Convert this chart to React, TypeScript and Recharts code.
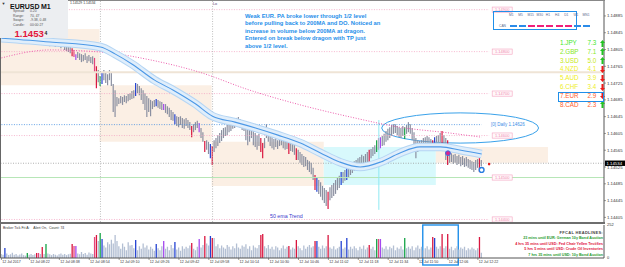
import React from "react";
import {
  ComposedChart, Bar, Line, XAxis, YAxis, Cell,
  ReferenceArea, ReferenceLine, ReferenceDot,
} from "recharts";

const FONT = '"Liberation Sans", Arial, sans-serif';

// EURUSD M1, 12 Jul 2017, one bar a minute from 08:07
const highs = [
  1.14870, 1.14866, 1.14875, 1.14870, 1.14863, 1.14866, 1.14870, 1.14868, 1.14861, 1.14863,
  1.14866, 1.14858, 1.14861, 1.14856, 1.14863, 1.14858, 1.14856, 1.14854, 1.14858, 1.14856,
  1.14851, 1.14854, 1.14837, 1.14835, 1.14832, 1.14830, 1.14827, 1.14832, 1.14830, 1.14827,
  1.14825, 1.14827, 1.14825, 1.14823, 1.14820, 1.14818, 1.14813, 1.14811, 1.14808, 1.14804,
  1.14794, 1.14799, 1.14796, 1.14794, 1.14792, 1.14796, 1.14789, 1.14792, 1.14787, 1.14789,
  1.14785, 1.14765, 1.14756, 1.14742, 1.14751, 1.14756, 1.14751, 1.14746, 1.14756, 1.14749,
  1.14723, 1.14708, 1.14692, 1.14689, 1.14694, 1.14692, 1.14696, 1.14694, 1.14699, 1.14701,
  1.14706, 1.14708, 1.14725, 1.14723, 1.14718, 1.14713, 1.14708, 1.14701, 1.14694, 1.14689,
  1.14685, 1.14682, 1.14685, 1.14687, 1.14685, 1.14682, 1.14680, 1.14675, 1.14675, 1.14670,
  1.14666, 1.14661, 1.14656, 1.14651, 1.14646, 1.14644, 1.14646, 1.14642, 1.14639, 1.14642,
  1.14637, 1.14632, 1.14623, 1.14627, 1.14632, 1.14635, 1.14630, 1.14618, 1.14608, 1.14587,
  1.14589, 1.14585, 1.14580, 1.14575, 1.14589, 1.14594, 1.14601, 1.14606, 1.14613, 1.14618,
  1.14620, 1.14625, 1.14627, 1.14632, 1.14635, 1.14637, 1.14642, 1.14644, 1.14639, 1.14635,
  1.14632, 1.14625, 1.14618, 1.14613, 1.14618, 1.14613, 1.14606, 1.14601, 1.14604, 1.14594,
  1.14582, 1.14594, 1.14627, 1.14613, 1.14604, 1.14596, 1.14592, 1.14594, 1.14589, 1.14594,
  1.14596, 1.14592, 1.14589, 1.14587, 1.14582, 1.14585, 1.14580, 1.14582, 1.14570, 1.14566,
  1.14561, 1.14556, 1.14551, 1.14549, 1.14542, 1.14539, 1.14535, 1.14523, 1.14506, 1.14499,
  1.14494, 1.14489, 1.14480, 1.14475, 1.14470, 1.14466, 1.14477, 1.14482, 1.14487, 1.14494,
  1.14499, 1.14504, 1.14513, 1.14513, 1.14518, 1.14523, 1.14523, 1.14530, 1.14535, 1.14539,
  1.14542, 1.14546, 1.14549, 1.14554, 1.14551, 1.14556, 1.14561, 1.14566, 1.14568, 1.14573,
  1.14577, 1.14589, 1.14594, 1.14596, 1.14599, 1.14604, 1.14611, 1.14616, 1.14620, 1.14625,
  1.14627, 1.14627, 1.14623, 1.14620, 1.14618, 1.14623, 1.14620, 1.14625, 1.14632, 1.14627,
  1.14618, 1.14608, 1.14594, 1.14589, 1.14587, 1.14589, 1.14594, 1.14596, 1.14599, 1.14596,
  1.14592, 1.14589, 1.14596, 1.14599, 1.14601, 1.14606, 1.14611, 1.14601, 1.14594, 1.14589,
  1.14561, 1.14558, 1.14554, 1.14556, 1.14551, 1.14554, 1.14549, 1.14551, 1.14546, 1.14549,
  1.14544, 1.14542, 1.14539, 1.14537, 1.14542, 1.14544, 1.14546, 1.14542,
];
const lows = [
  1.14851, 1.14851, 1.14851, 1.14856, 1.14846, 1.14851, 1.14854, 1.14851, 1.14844, 1.14849,
  1.14851, 1.14844, 1.14846, 1.14842, 1.14844, 1.14846, 1.14842, 1.14839, 1.14844, 1.14837,
  1.14837, 1.14839, 1.14818, 1.14820, 1.14815, 1.14818, 1.14813, 1.14818, 1.14815, 1.14811,
  1.14813, 1.14811, 1.14808, 1.14811, 1.14804, 1.14801, 1.14799, 1.14796, 1.14789, 1.14787,
  1.14780, 1.14785, 1.14780, 1.14775, 1.14777, 1.14780, 1.14773, 1.14777, 1.14773, 1.14770,
  1.14751, 1.14713, 1.14727, 1.14718, 1.14723, 1.14732, 1.14725, 1.14720, 1.14732, 1.14718,
  1.14656, 1.14644, 1.14670, 1.14675, 1.14677, 1.14673, 1.14680, 1.14677, 1.14682, 1.14685,
  1.14687, 1.14689, 1.14694, 1.14701, 1.14696, 1.14685, 1.14675, 1.14661, 1.14644, 1.14656,
  1.14646, 1.14663, 1.14668, 1.14670, 1.14666, 1.14663, 1.14661, 1.14661, 1.14654, 1.14651,
  1.14644, 1.14637, 1.14635, 1.14627, 1.14623, 1.14620, 1.14625, 1.14618, 1.14616, 1.14623,
  1.14618, 1.14613, 1.14596, 1.14608, 1.14613, 1.14618, 1.14608, 1.14594, 1.14585, 1.14561,
  1.14566, 1.14556, 1.14546, 1.14530, 1.14561, 1.14570, 1.14575, 1.14582, 1.14587, 1.14594,
  1.14599, 1.14601, 1.14608, 1.14611, 1.14616, 1.14618, 1.14623, 1.14625, 1.14618, 1.14613,
  1.14611, 1.14589, 1.14577, 1.14585, 1.14594, 1.14577, 1.14573, 1.14566, 1.14575, 1.14561,
  1.14546, 1.14570, 1.14594, 1.14585, 1.14575, 1.14570, 1.14566, 1.14573, 1.14568, 1.14575,
  1.14577, 1.14570, 1.14566, 1.14568, 1.14556, 1.14563, 1.14561, 1.14554, 1.14542, 1.14542,
  1.14535, 1.14530, 1.14525, 1.14527, 1.14518, 1.14513, 1.14508, 1.14494, 1.14470, 1.14466,
  1.14461, 1.14454, 1.14446, 1.14439, 1.14432, 1.14425, 1.14446, 1.14451, 1.14456, 1.14461,
  1.14470, 1.14475, 1.14482, 1.14487, 1.14492, 1.14494, 1.14499, 1.14506, 1.14511, 1.14516,
  1.14518, 1.14523, 1.14527, 1.14530, 1.14532, 1.14535, 1.14537, 1.14535, 1.14546, 1.14551,
  1.14556, 1.14561, 1.14566, 1.14570, 1.14575, 1.14577, 1.14585, 1.14589, 1.14594, 1.14599,
  1.14604, 1.14606, 1.14601, 1.14596, 1.14594, 1.14599, 1.14592, 1.14604, 1.14608, 1.14604,
  1.14589, 1.14570, 1.14546, 1.14561, 1.14566, 1.14568, 1.14570, 1.14575, 1.14577, 1.14573,
  1.14568, 1.14566, 1.14573, 1.14575, 1.14570, 1.14577, 1.14575, 1.14566, 1.14542, 1.14530,
  1.14535, 1.14537, 1.14532, 1.14535, 1.14530, 1.14532, 1.14527, 1.14530, 1.14525, 1.14527,
  1.14523, 1.14520, 1.14518, 1.14513, 1.14518, 1.14523, 1.14513, 1.14527,
];
const volumes = [
  30, 25, 76, 35, 22, 28, 40, 25, 30, 20,
  26, 34, 22, 18, 38, 25, 30, 22, 28, 38,
  38, 30, 84, 30, 107, 35, 28, 22, 30, 25,
  20, 28, 35, 25, 30, 22, 28, 32, 107, 92,
  92, 35, 28, 45, 30, 38, 25, 42, 35, 30,
  160, 176, 130, 191, 145, 95, 80, 120, 105, 140,
  110, 175, 130, 90, 70, 110, 85, 60, 120, 95,
  100, 75, 137, 60, 90, 70, 110, 80, 95, 65,
  85, 70, 55, 107, 75, 60, 90, 130, 70, 85,
  60, 100, 75, 122, 65, 80, 55, 90, 70, 85,
  75, 95, 115, 70, 60, 85, 145, 80, 100, 168,
  110, 95, 168, 153, 153, 90, 105, 75, 95, 80,
  70, 100, 85, 65, 90, 75, 110, 80, 70, 95,
  85, 105, 70, 90, 60, 95, 80, 75, 100, 176,
  183, 90, 75, 100, 70, 85, 65, 90, 80, 60,
  75, 95, 70, 85, 92, 65, 80, 70, 137, 90,
  75, 60, 95, 70, 85, 100, 80, 90, 130, 130,
  85, 70, 95, 75, 90, 176, 80, 70, 90, 65,
  75, 85, 130, 70, 80, 153, 65, 85, 70, 90,
  75, 60, 85, 70, 95, 65, 80, 100, 70, 85,
  60, 145, 145, 145, 80, 70, 90, 65, 85, 75,
  95, 60, 80, 70, 90, 65, 153, 75, 85, 70,
  90, 60, 80, 95, 70, 85, 60, 75, 90, 65,
  80, 160, 153, 85, 70, 90, 183, 75, 90, 183,
  70, 85, 60, 75, 90, 65, 80, 70, 85, 60,
  75, 65, 80, 70, 60, 75, 160, 40,
];

// bars coloured by the volume indicator (same colour on candle and volume)
const redBars = [19, 22, 38, 51, 102, 109, 113, 139, 140, 154, 158, 168, 175, 197, 231, 236, 239, 256];
const pinkBars = [20, 39, 50, 202];
const blueBars = [2, 54, 72, 83, 93, 112, 169, 182, 185, 232];
const greenBars = [14, 24, 53, 201, 216];
const purpleBars = [40, 87, 106, 203];

// dragon (ema band) and 200 ma, read at a few bars
const emaBars = [0, 26, 53, 61, 70, 82, 92, 104, 113, 125, 136, 148, 160, 171, 181, 192, 203, 213, 224, 235, 246, 257];
const emaValues = [1.14832, 1.14823, 1.14811, 1.14794, 1.14770, 1.14732, 1.14708, 1.14675, 1.14646, 1.14632, 1.14618,
  1.14601, 1.14582, 1.14558, 1.14537, 1.14525, 1.14537, 1.14558, 1.14573, 1.14573, 1.14565, 1.14556];
const maBars = [0, 26, 53, 80, 106, 133, 160, 187, 213, 240, 257];
const maValues = [1.14785, 1.14804, 1.14799, 1.14780, 1.14751, 1.14708, 1.14673, 1.14644, 1.14620, 1.14606, 1.14596];

// hourly range boxes
const boxStart = [0, 53, 113, 173, 233];
const boxEnd = [52, 112, 172, 232, 292];
const boxHigh = [1.14854, 1.14720, 1.14585, 1.14573, 1.14573];
const boxLow = [1.14720, 1.14585, 1.14480, 1.14482, 1.14535];
const boxFill = ["#fbefe4", "#fbefe4", "#fbefe4", "#d8f9fc", "#fbefe4"];

const levels = [1.149, 1.148, 1.147, 1.146, 1.145, 1.144];
const dailyLevel = 1.14626;
const upperLine = 1.14751;
const bid = 1.14534;
const priceTicks = [1.14405, 1.14445, 1.14485, 1.14525, 1.14565, 1.14605, 1.14645, 1.14685, 1.14725, 1.14765, 1.14805, 1.14845, 1.14885];

const timeBars = [0, 15, 31, 47, 63, 79, 95, 111, 127, 143, 159, 175, 191, 207, 223, 239, 255];
const timeLabels = ["12 Jul 2017", "12 Jul 08:22", "12 Jul 08:38", "12 Jul 08:54", "12 Jul 09:10", "12 Jul 09:26",
  "12 Jul 09:42", "12 Jul 09:58", "12 Jul 10:14", "12 Jul 10:30", "12 Jul 10:46", "12 Jul 11:02", "12 Jul 11:18",
  "12 Jul 11:34", "12 Jul 11:50", "12 Jul 12:06", "12 Jul 12:22"];

const currencies = ["1.JPY", "2.GBP", "3.USD", "4.NZD", "5.AUD", "6.CHF", "7.EUR", "8.CAD"];
const strengths = ["7.3", "7.1", "5.0", "4.1", "3.9", "3.4", "2.9", "2.3"];
const strengthUp = [true, true, true, false, false, false, false, true];
const strengthColors = ["#3fe82a", "#86e81e", "#c6e814", "#eeee1e", "#eeee1e", "#eeee1e", "#ff5e2e", "#ff5e2e"];

const frames = ["M1", "M5", "M15", "M30", "H1", "H4", "D1", "W1", "MN1"];
const frameColors = ["#2b8be8", "#2b8be8", "#f0207a", "#f0207a", "#f0207a", "#f0207a", "#f0207a", "#2b8be8", "#2b8be8"];

const headlines = [
  "23 mins until EUR: German 10y Bond Auction",
  "4 hrs 35 mins until USD: Fed Chair Yellen Testifies",
  "5 hrs 5 mins until USD: Crude Oil Inventories",
  "7 hrs 35 mins until USD: 10y Bond Auction",
];
const headlineColors = ["#1f9a2e", "#e0143c", "#e0143c", "#1f9a2e"];

const TOTAL = 323; // bars incl. empty chart shift on the right
const PRICE_MAX = 1.14923;
const PRICE_MIN = 1.14394;

function barColor(i: number, base: string) {
  if (redBars.includes(i)) return "#d9163f";
  if (pinkBars.includes(i)) return "#e4457c";
  if (blueBars.includes(i)) return "#2443d2";
  if (greenBars.includes(i)) return "#14a346";
  if (purpleBars.includes(i)) return "#a448ef";
  return base;
}

const rows = Array.from({ length: TOTAL }, (_, i) => ({
  i,
  hl: i < highs.length ? [lows[i], highs[i]] : null,
  vol: i < volumes.length ? volumes[i] : null,
  ema: emaBars.includes(i) ? emaValues[emaBars.indexOf(i)] : null,
  ma: maBars.includes(i) ? maValues[maBars.indexOf(i)] : null,
}));

function TimeTick(props: any) {
  const { x, y, payload } = props;
  const label = timeLabels[timeBars.indexOf(payload.value)];
  return (
    <g>
      <line x1={x} y1={y - 2} x2={x} y2={y} stroke="#555" strokeWidth={0.6} />
      <text x={x + 0.8} y={y + 3.3} fontSize={3.6} fill="#333" fontFamily={FONT}>{label}</text>
    </g>
  );
}

function Arrow({ up }: { up: boolean }) {
  const c = up ? "#22c322" : "#ee1a1a";
  const pts = up ? "2.5,0 5,3 3.5,3 3.5,7 1.5,7 1.5,3 0,3" : "2.5,7 5,4 3.5,4 3.5,0 1.5,0 1.5,4 0,4";
  return <svg width={5} height={7} style={{ display: "block" }}><polygon points={pts} fill={c} /></svg>;
}

const txt = (extra: any) => ({ position: "absolute" as const, whiteSpace: "nowrap" as const, lineHeight: 1, ...extra });

export default function App() {
  return (
    <div style={{ position: "fixed", left: 0, top: 0, width: 625, height: 267, background: "#fff", overflow: "hidden", fontFamily: FONT }}>
      <div style={{ position: "absolute", left: 0, top: 0 }}>
        <ComposedChart width={625} height={222} data={rows} margin={{ top: 0, right: 0, bottom: 0, left: 0.5 }} barCategoryGap={0} barGap={0}>
          <XAxis dataKey="i" hide />
          <YAxis orientation="right" width={21} type="number" domain={[PRICE_MIN, PRICE_MAX]} allowDataOverflow
            ticks={priceTicks} interval={0} tickFormatter={(v: number) => v.toFixed(5)}
            tick={{ fontSize: 4.3, fill: "#333", fontFamily: FONT }} tickSize={2} tickMargin={1}
            axisLine={{ stroke: "#555" }} tickLine={{ stroke: "#555", strokeWidth: 0.6 }} />
          {boxStart.map((s, k) => (
            <ReferenceArea key={"box" + k} x1={s} x2={boxEnd[k]} y1={boxLow[k]} y2={boxHigh[k]} fill={boxFill[k]} fillOpacity={1} stroke="none" />
          ))}
          <ReferenceLine y={upperLine} stroke="#efe4d6" strokeWidth={2} />
          {levels.map((v) => v === 1.145 ? (
            <ReferenceLine key={"lv" + v} y={v} stroke="#b6e6b6" strokeWidth={1} />
          ) : (
            <ReferenceLine key={"lv" + v} segment={[{ x: 0, y: v }, { x: 261, y: v }]} stroke="#f4a4c3" strokeDasharray="1 1.5" strokeWidth={0.8} />
          ))}
          <ReferenceLine x={53} stroke="#b0b0b0" strokeDasharray="1 1.5" strokeWidth={0.8} />
          <ReferenceLine x={113} stroke="#b0b0b0" strokeDasharray="1 1.5" strokeWidth={0.8} />
          <ReferenceLine segment={[{ x: 202, y: 1.14637 }, { x: 202, y: 1.14423 }]} stroke="#8fe9f2" strokeWidth={1} />
          <ReferenceLine segment={[{ x: 0, y: dailyLevel }, { x: 257, y: dailyLevel }]} stroke="#3d8be0" strokeDasharray="1 1.5" strokeWidth={0.8} />
          <ReferenceLine y={bid} stroke="#9c9c9c" strokeDasharray="1 1.5" strokeWidth={0.8}
            label={(p: any) => {
              const v = p.viewBox;
              return (
                <g>
                  <rect x={v.x + v.width + 1} y={v.y - 2.7} width={20} height={5.4} fill="#000" />
                  <text x={v.x + v.width + 2.5} y={v.y} dy="0.36em" fontSize={4.3} fill="#fff" fontFamily={FONT}>{bid.toFixed(5)}</text>
                </g>
              );
            }} />
          <ReferenceArea x1={204} x2={287} y1={1.14582} y2={1.14654} ifOverflow="visible"
            shape={(p: any) => (
              <ellipse cx={p.x + p.width / 2} cy={p.y + p.height / 2} rx={p.width / 2} ry={p.height / 2} fill="none" stroke="#3aa2ea" strokeWidth={1} />
            )} />
          <Bar dataKey="hl" barSize={1.2} isAnimationActive={false}>
            {rows.map((r) => <Cell key={"c" + r.i} fill={barColor(r.i, "#8b90a1")} />)}
          </Bar>
          <Line dataKey="ma" type="monotone" connectNulls dot={false} activeDot={false} stroke="#ee5fae" strokeWidth={1} strokeDasharray="1 1.6" isAnimationActive={false} />
          <Line dataKey="ema" type="monotone" connectNulls dot={false} activeDot={false} stroke="#b4d5f4" strokeWidth={8.5} isAnimationActive={false} />
          <Line dataKey="ema" type="monotone" connectNulls dot={false} activeDot={false} stroke="#e0eefb" strokeWidth={6.5} isAnimationActive={false} />
          <Line dataKey="ema" type="monotone" connectNulls dot={false} activeDot={false} stroke="#4c98e6" strokeWidth={1.1} isAnimationActive={false} />
          {levels.map((v) => (
            <ReferenceDot key={"lab" + v} x={268} y={v} r={0} ifOverflow="visible"
              shape={(p: any) => (
                <g>
                  <rect x={p.cx - 10} y={p.cy - 2.6} width={20} height={5.2} fill="#fff8fa" stroke="#f4a3c0" strokeWidth={0.6} />
                  <text x={p.cx} y={p.cy} dy="0.36em" textAnchor="middle" fontSize={4} fill="#f08ab0" fontFamily={FONT}>{v.toFixed(5)}</text>
                </g>
              )} />
          ))}
          <ReferenceDot x={262} y={dailyLevel} r={0} ifOverflow="visible"
            shape={(p: any) => (
              <text x={p.cx} y={p.cy} dy="0.36em" fontSize={4.5} fill="#3a8fe6" fontFamily={FONT}>{"[0] Daily " + dailyLevel.toFixed(5)}</text>
            )} />
          <ReferenceDot x={239} y={1.14558} r={2.4} fill="#e0208a" stroke="#3a6ee8" strokeWidth={1} />
          <ReferenceDot x={257} y={1.14518} r={2.4} fill="#fff" stroke="#2a7de0" strokeWidth={1.4} />
          <ReferenceDot x={261} y={1.14532} r={1.3} fill="#e82020" stroke="none" />
        </ComposedChart>
      </div>

      <div style={{ position: "absolute", left: 0, top: 222 }}>
        <ComposedChart width={625} height={45} data={rows} margin={{ top: 3, right: 0, bottom: 0, left: 0.5 }} barCategoryGap={0} barGap={0}>
          <XAxis dataKey="i" ticks={timeBars} interval={0} tick={<TimeTick />} height={9} tickSize={1} tickMargin={1}
            axisLine={{ stroke: "#555" }} tickLine={false} />
          <YAxis orientation="right" width={21} domain={[0, 252]} ticks={[0, 252]} interval={0} allowDataOverflow
            tick={{ fontSize: 4, fill: "#333", fontFamily: FONT }} tickSize={2} tickMargin={1}
            axisLine={{ stroke: "#555" }} tickLine={false} />
          <Bar dataKey="vol" barSize={1.3} isAnimationActive={false}>
            {rows.map((r) => <Cell key={"v" + r.i} fill={barColor(r.i, "#b3bfd3")} />)}
          </Bar>
          <ReferenceArea x1={226} x2={244} y1={0} y2={252} ifOverflow="visible"
            shape={(p: any) => (
              <rect x={p.x} y={p.y} width={p.width} height={p.height + 7} fill="none" stroke="#1f8fea" strokeWidth={1.4} />
            )} />
        </ComposedChart>
      </div>

      {/* frame */}
      <div style={{ position: "absolute", left: 0, top: 0, width: 1, height: 258, background: "#666" }} />
      <div style={{ position: "absolute", left: 0, top: 0, width: 605, height: 1, background: "#888" }} />
      <div style={{ position: "absolute", left: 0, top: 222, width: 605, height: 2, background: "#6e6e6e" }} />

      {/* info panel */}
      <div style={{ position: "absolute", left: 0, top: 0, width: 68, height: 38, background: "#eceef1" }}>
        <div style={txt({ left: 1.5, top: 2, fontSize: 4, color: "#333" })}>▼</div>
        <div style={txt({ left: 10, top: 2.5, fontSize: 7, fontWeight: 700, color: "#111" })}>EURUSD</div>
        <div style={txt({ left: 41, top: 2.5, fontSize: 7, fontWeight: 700, color: "#111" })}>M1</div>
        {[["Spread:", "0.20"], ["Range:", "70, 47"], ["Swaps:", "-9.38, 0.48"], ["Candle:", "00:00:27"]].map((r, k) => (
          <React.Fragment key={"inf" + k}>
            <div style={txt({ left: 13, top: 10.3 + k * 4.5, fontSize: 3.4, color: "#555" })}>{r[0]}</div>
            <div style={txt({ left: 30, top: 10.3 + k * 4.5, fontSize: 3.4, color: "#555" })}>{r[1]}</div>
          </React.Fragment>
        ))}
        <div style={txt({ left: 14.5, top: 28.5, fontSize: 9.6, fontWeight: 700, color: "#e3153b" })}>1.1453</div>
        <div style={txt({ left: 44.5, top: 31, fontSize: 5, fontWeight: 700, color: "#222" })}>4</div>
      </div>
      <div style={txt({ left: 70, top: 2.3, fontSize: 3.4, color: "#333" })}>1.14529 1.14534</div>
      <div style={txt({ left: 213, top: 2.5, fontSize: 3.8, color: "#554477" })}>Lo</div>

      {/* trade comment */}
      <div style={{ position: "absolute", left: 245, top: 12.5, width: 200, fontSize: 5.8, lineHeight: "7.5px", fontWeight: 700, color: "#1f8fea" }}>
        Weak EUR. PA broke lower through 1/2 level<br />
        before pulling back to 200MA and DO. Noticed an<br />
        increase in volume below 200MA at dragon.<br />
        Entered on break below dragon with TP just<br />
        above 1/2 level.
      </div>

      {/* timeframe trend box */}
      <div style={{ position: "absolute", left: 493, top: 11, width: 84, height: 19, border: "1.3px solid #1f8fea", boxSizing: "border-box" }} />
      {frames.map((f, k) => (
        <React.Fragment key={"tf" + f}>
          <div style={txt({ left: 509 + k * 9.2, top: 13.5, fontSize: 3.3, color: "#5a6a90" })}>{f}</div>
          <div style={{ position: "absolute", left: 509.5 + k * 9.2, top: 25.3, width: 7, height: 1.8, background: frameColors[k] }} />
        </React.Fragment>
      ))}
      <div style={txt({ left: 499, top: 24.5, fontSize: 3.3, color: "#5a6a90" })}>CAN</div>

      {/* currency strength */}
      {currencies.map((c, k) => (
        <React.Fragment key={"cs" + c}>
          <div style={txt({ left: 560, top: 40 + k * 8.8, fontSize: 6.3, color: strengthColors[k] })}>{c}</div>
          <div style={txt({ left: 587.5, top: 40 + k * 8.8, fontSize: 6.3, color: strengthColors[k] })}>{strengths[k]}</div>
          <div style={{ position: "absolute", left: 599.5, top: 39.5 + k * 8.8 }}><Arrow up={strengthUp[k]} /></div>
        </React.Fragment>
      ))}
      <div style={{ position: "absolute", left: 558, top: 91.5, width: 46, height: 10, border: "1px solid #1f8fea", boxSizing: "border-box" }} />

      <div style={txt({ left: 270, top: 214.3, fontSize: 5.3, color: "#3a3acc" })}>50 ema Trend</div>

      {/* volume pane texts */}
      <div style={txt({ left: 3, top: 227.3, fontSize: 3.5, color: "#333" })}>Broker Tick Fit A:&nbsp;&nbsp;&nbsp;&nbsp;Alert On,&nbsp;&nbsp;Count: 74</div>
      <div style={txt({ right: 22, top: 231.3, fontSize: 4, fontWeight: 700, color: "#444", letterSpacing: 0.3 })}>FFCAL HEADLINES:</div>
      {headlines.map((h, k) => (
        <div key={"hl" + k} style={txt({ right: 22, top: 237.3 + k * 5.4, fontSize: 3.7, fontWeight: 700, color: headlineColors[k] })}>{h}</div>
      ))}
    </div>
  );
}
